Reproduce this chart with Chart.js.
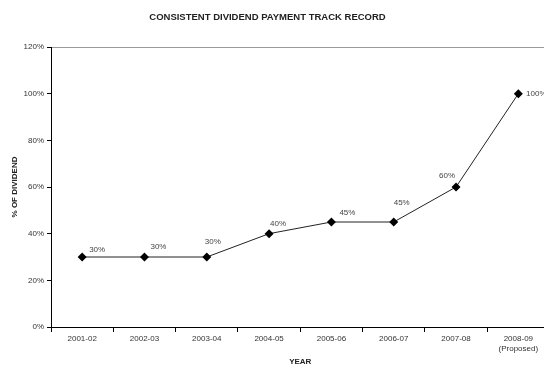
<!DOCTYPE html>
<html>
<head>
<meta charset="utf-8">
<script src="https://cdn.jsdelivr.net/npm/chart.js@4/dist/chart.umd.min.js"></script>
<style>
  html, body { margin: 0; padding: 0; background: #fff; overflow: hidden; }
  #wrap { width: 554px; height: 367px; }
</style>
</head>
<body>
<div id="wrap"><canvas id="dividendChart" width="554" height="367"></canvas></div>
<script>
// dividend payout per financial year (% of face value)
var years = ["2001-02", "2002-03", "2003-04", "2004-05", "2005-06", "2006-07", "2007-08", ["2008-09", "(Proposed)"]];
var dividendPct = [30, 30, 30, 40, 45, 45, 60, 100];
var yTicks = [0, 20, 40, 60, 80, 100, 120];
var chartTitle = "CONSISTENT DIVIDEND PAYMENT TRACK RECORD";

// where each value label sits relative to its marker
var labelShift = [[15, -7], [14, -10], [6, -15], [9, -10], [16, -9], [8, -19], [-9, -11], [18, 0]];

var valueLabels = {
    id: "valueLabels",
    afterDatasetsDraw: function(chart){
        var ctx = chart.ctx;
        var meta = chart.getDatasetMeta(0);
        ctx.save();
        ctx.font = "8px 'Liberation Sans', Arial, sans-serif";
        ctx.fillStyle = "#444";
        ctx.textAlign = "center";
        ctx.textBaseline = "middle";
        for(let i = 0; i < meta.data.length; i++){
            var pt = meta.data[i];
            ctx.fillText(dividendPct[i] + "%", pt.x + labelShift[i][0], pt.y + labelShift[i][1]);
        }
        ctx.restore();
    }
};

// heading sits over the visible part of the chart, not the whole canvas
var heading = {
    id: "heading",
    afterDraw: function(chart){
        var ctx = chart.ctx;
        ctx.save();
        ctx.font = "bold 9.5px 'Liberation Sans', Arial, sans-serif";
        ctx.fillStyle = "#222";
        ctx.textAlign = "center";
        ctx.textBaseline = "middle";
        ctx.fillText(chartTitle, 267.5, 17);
        ctx.restore();
    }
};

Chart.defaults.font.family = "'Liberation Sans', Arial, sans-serif";
Chart.defaults.color = "#333";

new Chart("dividendChart", {
    type: "line",
    data: {
        labels: years,
        datasets: [{
            data: dividendPct,
            borderColor: "#222",
            borderWidth: 1,
            pointStyle: "rectRot",
            pointRadius: 4.5,
            pointBackgroundColor: "#000",
            pointBorderColor: "#000",
            pointBorderWidth: 0,
            tension: 0,
            fill: false
        }]
    },
    options: {
        responsive: false,
        animation: false,
        layout: { padding: { top: 47, right: 1, bottom: 0, left: 0 } },
        plugins: {
            legend: { display: false },
            tooltip: { enabled: false },
            title: { display: false }
        },
        scales: {
            x: {
                type: "category",
                offset: true,
                grid: {
                    offset: true,
                    drawOnChartArea: false,
                    tickColor: "#000",
                    tickLength: 5
                },
                border: { color: "#000", width: 1 },
                ticks: { font: { size: 8 }, padding: 2, maxRotation: 0, autoSkip: false },
                title: {
                    display: true,
                    text: "YEAR",
                    color: "#222",
                    font: { size: 8, weight: "bold", lineHeight: 1.2 },
                    padding: { top: 0, bottom: 0 }
                },
                afterFit: function(scale){ scale.height = 40; }
            },
            y: {
                min: 0,
                max: 120,
                afterBuildTicks: function(scale){
                    scale.ticks = yTicks.map(function(v){ return { value: v }; });
                },
                grid: {
                    color: function(ctx){ return ctx.tick && ctx.tick.value === 120 ? "#999" : "rgba(0,0,0,0)"; },
                    tickColor: "#000",
                    tickLength: 4
                },
                border: { color: "#000", width: 1 },
                ticks: {
                    font: { size: 8 },
                    padding: 3,
                    callback: function(v){ return v + "%"; }
                },
                title: {
                    display: true,
                    text: "% OF DIVIDEND",
                    color: "#222",
                    font: { size: 8, weight: "bold", lineHeight: 1.2 },
                    padding: { top: 9.7, bottom: 0 }
                },
                afterFit: function(scale){ scale.width = 51; }
            }
        }
    },
    plugins: [valueLabels, heading]
});
</script>
</body>
</html>
